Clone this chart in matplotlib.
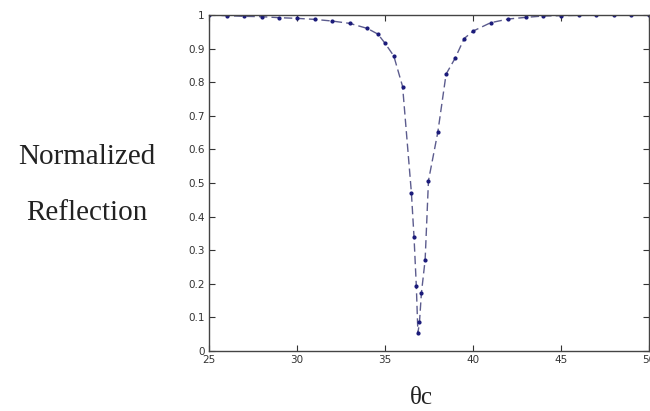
import matplotlib
matplotlib.use("Agg")
import matplotlib.pyplot as plt

theta = [25, 26, 27, 28, 29, 30, 31, 32, 33, 34, 34.6, 35, 35.5, 36.0,
         36.5, 36.65, 36.78, 36.87, 36.96, 37.07, 37.28, 37.47, 38.0,
         38.47, 38.98, 39.5, 40.0, 41, 42, 43, 44, 45, 46, 47, 48, 49, 50]
refl = [1.0, 0.998, 0.996, 0.995, 0.992, 0.99, 0.987, 0.982, 0.975, 0.960, 0.943,
        0.916, 0.878, 0.787, 0.471, 0.338, 0.193, 0.053, 0.087, 0.173, 0.271,
        0.507, 0.651, 0.824, 0.871, 0.93, 0.952, 0.977, 0.988, 0.993, 0.997,
        0.998, 0.999, 0.999, 1.0, 1.0, 1.0]
xticks = [25, 30, 35, 40, 45, 50]
yticks = [0, 0.1, 0.2, 0.3, 0.4, 0.5, 0.6, 0.7, 0.8, 0.9, 1]
ytick_labels = ["0", "0.1", "0.2", "0.3", "0.4", "0.5", "0.6", "0.7", "0.8", "0.9", "1"]

fig = plt.figure(figsize=(6.5, 4.11), dpi=100)
ax = fig.add_axes([209/650, 1-351/411, 440/650, 336/411])
ax.plot(theta, refl, linestyle=(0, (6, 3)), color="#5c5c8e", linewidth=1.0,
        marker='.', markersize=4, markerfacecolor="#1a1a7a", markeredgecolor="#1a1a7a")
ax.set_xlim(25, 50)
ax.set_ylim(0, 1)
ax.set_xticks(xticks)
ax.set_yticks(yticks)
ax.set_yticklabels(ytick_labels)
ax.tick_params(direction='in', length=4, labelsize=7.5, colors='#333333',
               right=True, top=True, pad=3)
for s in ax.spines.values():
    s.set_color('#444444')
    s.set_linewidth(1.0)

fig.text(87/650, 1-157/411, "Normalized", family="Liberation Serif", fontsize=21,
         ha='center', va='center', color='#222222')
fig.text(87/650, 1-213/411, "Reflection", family="Liberation Serif", fontsize=21,
         ha='center', va='center', color='#222222')
fig.text(421/650, 1-398/411, "θc", family="Liberation Serif", fontsize=18,
         ha='center', va='center', color='#222222')

fig.savefig("out.png", dpi=100)
